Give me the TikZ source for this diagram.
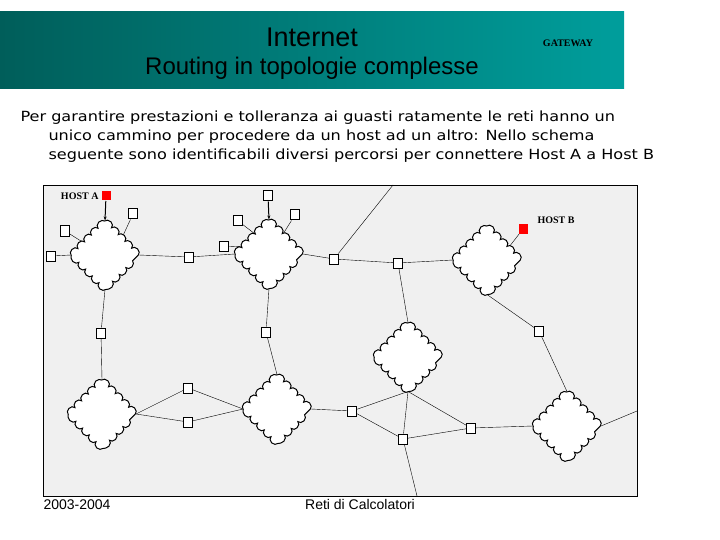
\documentclass[tikz,border=0pt]{standalone}
\usepackage{fontspec}
\setmainfont{Liberation Sans}
\newfontfamily\bodyfont[FakeStretch=1.15]{DejaVu Sans}
\newfontfamily\labelfont{Liberation Serif}
\usetikzlibrary{shapes.geometric,decorations.pathmorphing,backgrounds,arrows.meta}

\definecolor{bannerdark}{RGB}{0,94,90}
\definecolor{bannerlight}{RGB}{0,158,156}
\definecolor{boxgray}{RGB}{240,240,240}

\tikzset{
  lan/.style={diamond, draw, fill=white, inner sep=0pt, minimum width=67pt,
    minimum height=68pt, decorate,
    decoration={bumps, segment length=19.09pt, amplitude=-3.8pt}},
  router/.style={draw, fill=white, inner sep=0pt, minimum width=9pt, minimum height=10pt},
  host/.style={fill=red, inner sep=0pt, minimum size=9pt},
  hostlabel/.style={font=\labelfont\bfseries\fontsize{10}{12}\selectfont, inner sep=0pt},
  bodyline/.style={anchor=base west, inner sep=0pt, font=\bodyfont\fontsize{14}{16}\selectfont}
}

\begin{document}
\begin{tikzpicture}[x=1pt, y=-1pt, line width=1pt]
 \useasboundingbox (0,0) rectangle (720,540);

 \shade[left color=bannerdark, right color=bannerlight] (0,12) rectangle (624,89);
 \node (title) at (312,37) {\fontsize{27}{30}\selectfont Internet};
 \node (subtitle) at (312,68) {\fontsize{24}{27}\selectfont Routing in topologie complesse};
 \node[font=\labelfont\bfseries\fontsize{10}{12}\selectfont] (gateway) at (568,43) {GATEWAY};

 \node[bodyline] (par1) at (20,122) {Per garantire prestazioni e tolleranza ai guasti ratamente le reti hanno un};
 \node[bodyline] (par2) at (48,141) {unico cammino per procedere da un host ad un altro: Nello schema};
 \node[bodyline] (par3) at (48,160) {seguente sono identificabili diversi percorsi per connettere Host A a Host B};

 \node[lan] (c1) at (105,255) {};
 \node[lan] (c2) at (269,254) {};
 \node[lan] (c3) at (487,260) {};
 \node[lan] (c4) at (408,357) {};
 \node[lan] (c5) at (102,414) {};
 \node[lan] (c6) at (277,409) {};
 \node[lan] (c7) at (567,426) {};

 \node[host] (hosta) at (106,196) {};
 \node[host] (hostb) at (523,229) {};
 \node[hostlabel, anchor=east] (hostalabel) at (99,196) {HOST A};
 \node[hostlabel, anchor=west] (hostblabel) at (537,220) {HOST B};

 \node[router] (r1) at (133,214) {};
 \node[router] (r2) at (65,231) {};
 \node[router] (r3) at (51,256) {};
 \node[router] (r4) at (189,257) {};
 \node[router] (r5) at (101,333) {};
 \node[router] (r6) at (268,196) {};
 \node[router] (r7) at (295,215) {};
 \node[router] (r8) at (238,221) {};
 \node[router] (r9) at (224,246) {};
 \node[router] (r10) at (334,259) {};
 \node[router] (r11) at (398,263) {};
 \node[router] (r12) at (266,332) {};
 \node[router] (r13) at (539,331) {};
 \node[router] (r14) at (352,411) {};
 \node[router] (r15) at (403,439) {};
 \node[router] (r16) at (471,428) {};
 \node[router] (r17) at (188,388) {};
 \node[router] (r18) at (188,422) {};

 \coordinate (toptap) at (393,185);
 \coordinate (bottap) at (417,496);
 \coordinate (righttap) at (637,411);

 \begin{scope}[on background layer]
  \draw[fill=boxgray] (43,185) rectangle (637,496);
  \draw (r1) -- (c1.north east);
  \draw (r2) -- (c1.150);
  \draw (r3) -- (c1.west);
  \draw (c1.east) -- (r4) -- (c2.west);
  \draw (c1.south) -- (r5) -- (c5.north);
  \draw (r7) -- (c2.55);
  \draw (r8) -- (c2.125);
  \draw (r9) -- (c2.165);
  \draw (c2.east) -- (r10) -- (r11) -- (c3.west);
  \draw (r10) -- (toptap);
  \draw (r11) -- (c4.north);
  \draw (c2.south) -- (r12) -- (c6.north);
  \draw (hostb) -- (c3.30);
  \draw (c3.south) -- (r13) -- (c7.north);
  \draw (c4.south) -- (r14);
  \draw (c4.south) -- (r15);
  \draw (c4.south) -- (r16);
  \draw (c6.east) -- (r14) -- (r15) -- (r16) -- (c7.west);
  \draw (r15) -- (bottap);
  \draw (c7.east) -- (righttap);
  \draw (c5.east) -- (r17) -- (c6.west);
  \draw (c5.east) -- (r18) -- (c6.west);
 \end{scope}

 \draw[-{Stealth[length=4pt,width=3pt]}] (hosta) -- (c1.north);
 \draw[-{Stealth[length=4pt,width=3pt]}] (r6) -- (c2.north);

 \node[anchor=base west, inner sep=0pt, font=\fontsize{14}{16}\selectfont] (years) at (43,509) {2003-2004};
 \node[anchor=base, inner sep=0pt, font=\fontsize{14}{16}\selectfont] (course) at (360,509) {Reti di Calcolatori};
\end{tikzpicture}
\end{document}
